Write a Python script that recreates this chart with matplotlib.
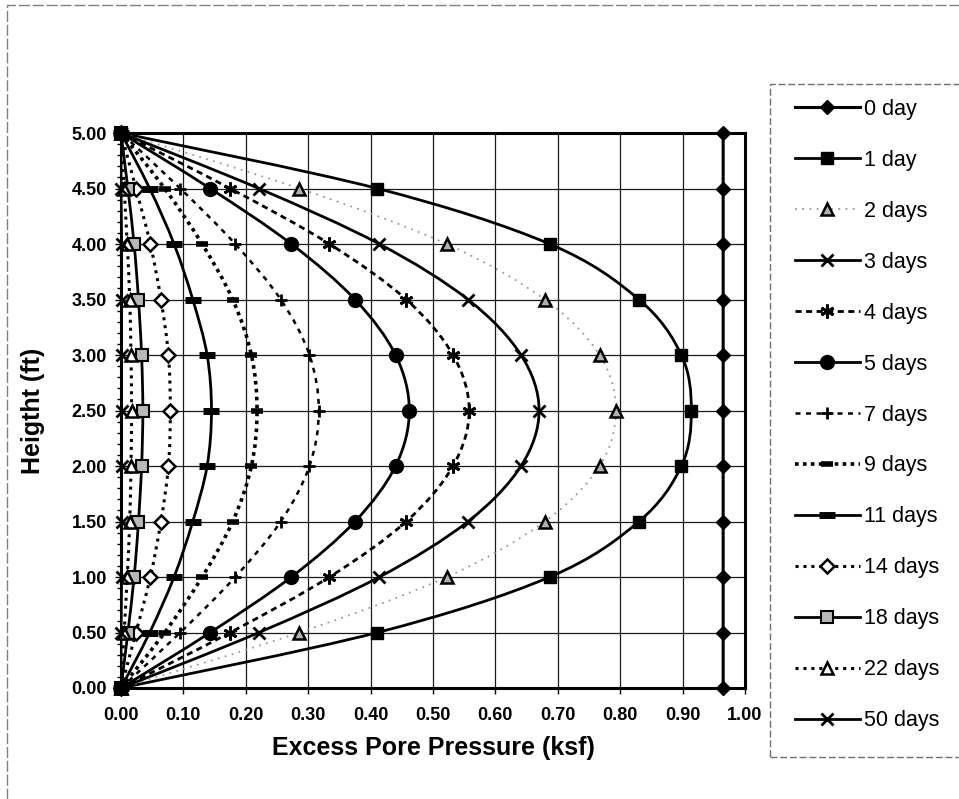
import numpy as np
import matplotlib
matplotlib.use("Agg")
import matplotlib.pyplot as plt
from matplotlib.path import Path
from matplotlib.patches import PathPatch, Rectangle
from matplotlib.lines import Line2D
from matplotlib.ticker import MultipleLocator, FormatStrFormatter

plt.rcParams['font.family'] = ['Liberation Sans', 'DejaVu Sans']

# depth points (ft) and excess pore pressure (ksf) for each elapsed time
heights = [0.0, 0.5, 1.0, 1.5, 2.0, 2.5, 3.0, 3.5, 4.0, 4.5, 5.0]
labels = ["0 day", "1 day", "2 days", "3 days", "4 days", "5 days", "7 days",
          "9 days", "11 days", "14 days", "18 days", "22 days", "50 days"]

u_0 = [0.965, 0.965, 0.965, 0.965, 0.965, 0.965, 0.965, 0.965, 0.965, 0.965, 0.965]
u_1 = [0.0, 0.411, 0.687, 0.830, 0.898, 0.914, 0.898, 0.830, 0.687, 0.411, 0.0]
u_2 = [0.0, 0.286, 0.522, 0.679, 0.767, 0.793, 0.767, 0.679, 0.522, 0.286, 0.0]
u_3 = [0.0, 0.221, 0.414, 0.556, 0.641, 0.670, 0.641, 0.556, 0.414, 0.221, 0.0]
u_4 = [0.0, 0.175, 0.334, 0.457, 0.532, 0.558, 0.532, 0.457, 0.334, 0.175, 0.0]
u_5 = [0.0, 0.143, 0.273, 0.375, 0.440, 0.462, 0.440, 0.375, 0.273, 0.143, 0.0]
u_7 = [0.0, 0.095, 0.183, 0.256, 0.302, 0.317, 0.302, 0.256, 0.183, 0.095, 0.0]
u_9 = [0.0, 0.070, 0.130, 0.179, 0.209, 0.218, 0.209, 0.179, 0.130, 0.070, 0.0]
u_11 = [0.0, 0.046, 0.085, 0.115, 0.138, 0.145, 0.138, 0.115, 0.085, 0.046, 0.0]
u_14 = [0.0, 0.024, 0.047, 0.064, 0.076, 0.079, 0.076, 0.064, 0.047, 0.024, 0.0]
u_18 = [0.0, 0.011, 0.021, 0.028, 0.033, 0.035, 0.033, 0.028, 0.021, 0.011, 0.0]
u_22 = [0.0, 0.005, 0.010, 0.014, 0.016, 0.017, 0.016, 0.014, 0.010, 0.005, 0.0]
u_50 = [0.0, 0.000, 0.001, 0.001, 0.001, 0.001, 0.001, 0.001, 0.001, 0.000, 0.0]

series = [u_0, u_1, u_2, u_3, u_4, u_5, u_7, u_9, u_11, u_14, u_18, u_22, u_50]

K = 'black'
styles = [
    dict(color=K, ls='-', lw=2.2, marker='D', ms=7, mfc=K, mec=K, mew=1),
    dict(color=K, ls='-', lw=2.0, marker='s', ms=9, mfc=K, mec=K, mew=1),
    dict(color='#9a9a9a', ls=(0, (1, 3)), lw=1.3, marker='^', ms=8, mfc='#b0b0b0', mec=K, mew=1.8),
    dict(color=K, ls='-', lw=2.0, marker='x', ms=9, mfc=K, mec=K, mew=2),
    dict(color=K, ls=(0, (2.2, 1.6)), lw=2.0, marker=(6, 2, 0), ms=10, mfc=K, mec=K, mew=2),
    dict(color=K, ls='-', lw=2.0, marker='o', ms=10, mfc=K, mec=K, mew=1),
    dict(color=K, ls=(0, (2.0, 2.2)), lw=1.8, marker='+', ms=9, mfc=K, mec=K, mew=2),
    dict(color=K, ls=(0, (1.0, 1.2)), lw=2.6, marker='_', ms=8, mfc=K, mec=K, mew=4),
    dict(color=K, ls='-', lw=2.0, marker='_', ms=11, mfc=K, mec=K, mew=5),
    dict(color=K, ls=(0, (1.0, 1.6)), lw=2.2, marker='D', ms=7, mfc='white', mec=K, mew=1.8),
    dict(color=K, ls='-', lw=2.0, marker='s', ms=8, mfc='#b8b8b8', mec=K, mew=1.5),
    dict(color=K, ls=(0, (1.0, 1.6)), lw=2.2, marker='^', ms=8, mfc='white', mec=K, mew=1.8),
    dict(color=K, ls='-', lw=2.0, marker='x', ms=9, mfc=K, mec=K, mew=2),
]


def smooth_path(xs, ys):
    # Catmull-Rom style cubic Bezier through the points (Excel "smoothed line")
    p = np.column_stack([xs, ys]).astype(float)
    n = len(p)
    verts = [p[0]]
    codes = [Path.MOVETO]
    for i in range(n - 1):
        p0 = p[i - 1] if i > 0 else p[i]
        p3 = p[i + 2] if i + 2 < n else p[i + 1]
        c1 = p[i] + (p[i + 1] - p0) / 6.0
        c2 = p[i + 1] - (p3 - p[i]) / 6.0
        verts += [c1, c2, p[i + 1]]
        codes += [Path.CURVE4] * 3
    return Path(verts, codes)


fig = plt.figure(figsize=(9.59, 7.99), dpi=100)
ax = fig.add_axes([121 / 959, 1 - 688 / 799, (745 - 121) / 959, (688 - 133) / 799])

ax.set_xlim(0, 1.0)
ax.set_ylim(0, 5.0)
ax.xaxis.set_major_locator(MultipleLocator(0.1))
ax.yaxis.set_major_locator(MultipleLocator(0.5))
ax.yaxis.set_minor_locator(MultipleLocator(0.1))
ax.xaxis.set_major_formatter(FormatStrFormatter('%.2f'))
ax.yaxis.set_major_formatter(FormatStrFormatter('%.2f'))
ax.grid(True, which='major', color='#1a1a1a', lw=0.9)
ax.set_axisbelow(True)
ax.tick_params(which='both', direction='out', length=4, width=1, color=K)
ax.tick_params(axis='x', pad=10)
ax.tick_params(axis='y', pad=6)
ax.tick_params(which='minor', length=3)
for lab in ax.get_xticklabels() + ax.get_yticklabels():
    lab.set_fontsize(13)
    lab.set_fontweight('bold')
for side in ['top', 'right', 'bottom']:
    ax.spines[side].set_linewidth(2.2)
ax.spines['left'].set_linewidth(1.5)

handles = []
for k, (u, st) in enumerate(zip(series, styles)):
    z = 3 + k
    patch = PathPatch(smooth_path(u, heights), fill=False, edgecolor=st['color'],
                      lw=st['lw'], linestyle=st['ls'], zorder=z, capstyle='butt')
    ax.add_patch(patch)
    # the 1-day squares sit on top where all curves meet at the drained ends
    mz = 30 if k == 1 else z
    ax.plot(u, heights, ls='none', marker=st['marker'], ms=st['ms'], mfc=st['mfc'],
            mec=st['mec'], mew=st['mew'], zorder=mz, clip_on=False)
    handles.append(Line2D([], [], color=st['color'], ls=st['ls'], lw=st['lw'],
                          marker=st['marker'], ms=st['ms'], mfc=st['mfc'],
                          mec=st['mec'], mew=st['mew']))

ax.set_xlabel('Excess Pore Pressure (ksf)', fontsize=18, fontweight='bold', labelpad=8)
ax.set_ylabel('Heigtht (ft)', fontsize=18, fontweight='bold', labelpad=19)

# legend on the right with a dashed frame
leg = fig.legend(handles, labels, loc='upper left', bbox_to_anchor=(795 / 959, 1 - 99 / 799),
                 frameon=False, fontsize=15.5, handlelength=3.0, handletextpad=0.2,
                 labelspacing=1.39, borderaxespad=0, borderpad=0)
fig.add_artist(Rectangle((770 / 959, 1 - 757 / 799), 0.3, (757 - 84) / 799,
                         transform=fig.transFigure, fill=False, ec='#707070',
                         lw=1.0, ls=(0, (5, 2))))
# outer chart frame
fig.add_artist(Rectangle((7 / 959, -0.05), 1.0, 1.05 - 5 / 799,
                         transform=fig.transFigure, fill=False, ec='#808080',
                         lw=1.0, ls=(0, (8, 2))))

fig.savefig('out.png', dpi=100)
